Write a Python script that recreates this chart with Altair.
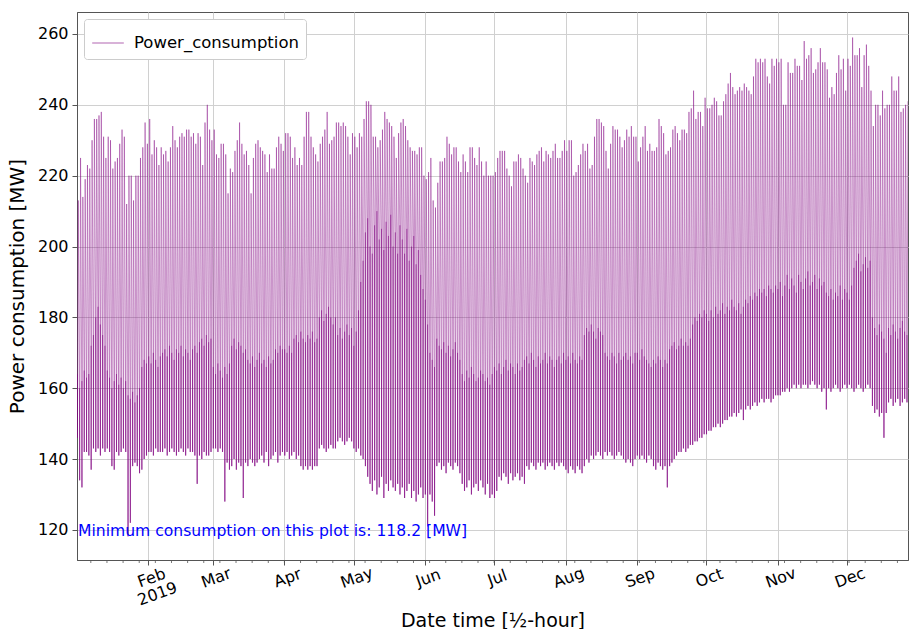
import altair as alt
import pandas as pd

# ---- daily peak values (MW), 1 Jan 2019 .. 27 Dec 2019 ----
peak_jan_apr1 = [213, 225, 214, 219, 223, 222, 230, 236, 236, 237,
                 238, 231, 225, 231, 230, 222, 224, 225, 229, 233,
                 231, 212, 220, 220, 213, 220, 220, 225, 228, 235,
                 229, 236, 226, 230, 228, 223, 228, 226, 227, 224,
                 228, 234, 230, 228, 231, 232, 231, 233, 233, 231,
                 232, 229, 232, 231, 223, 235, 240, 233, 230, 233,
                 226, 225, 229, 229, 226, 215, 222, 221, 227, 230,
                 235, 229, 226, 227, 223, 215, 225, 229, 230, 228,
                 227, 226, 221, 226, 222, 222, 228, 231, 229, 227,
                 232]
peak_apr_jul = [232, 231, 225, 228, 223, 225, 223, 231, 238, 238,
                231, 228, 226, 224, 229, 231, 233, 238, 229, 230,
                231, 235, 235, 234, 235, 234, 231, 226, 232, 231,
                228, 232, 231, 236, 241, 241, 240, 231, 231, 228,
                230, 233, 238, 236, 235, 234, 231, 225, 232, 235,
                236, 234, 230, 228, 227, 227, 226, 228, 228, 220,
                219, 221, 225, 213, 211, 218, 224, 224, 225, 231,
                229, 226, 228, 228, 224, 221, 226, 224, 221, 228,
                228, 225, 223, 228, 224, 220, 224, 220, 220, 220,
                221, 225]
peak_jul_sep = [227, 227, 227, 222, 220, 217, 224, 224, 226, 225,
                222, 220, 218, 225, 224, 223, 226, 227, 228, 224,
                227, 226, 225, 227, 229, 225, 225, 227, 230, 227,
                230, 230, 220, 221, 223, 226, 229, 227, 229, 222,
                223, 231, 236, 236, 235, 234, 227, 222, 229, 234,
                233, 233, 231, 228, 230, 233, 231, 234, 231, 231,
                224, 228, 231, 234, 227, 229, 227, 227, 228, 236,
                234, 232, 226, 227, 228, 233, 234, 232, 230, 233,
                233, 232, 238, 239, 244, 236, 238, 238, 234, 242,
                239]
peak_oct_dec = [239, 240, 242, 241, 237, 237, 241, 243, 246, 249,
                245, 243, 244, 245, 244, 246, 245, 244, 243, 248,
                253, 252, 253, 252, 253, 248, 246, 253, 251, 253,
                252, 253, 240, 240, 252, 249, 249, 253, 251, 251,
                247, 258, 253, 254, 256, 249, 250, 252, 256, 252,
                252, 250, 242, 245, 243, 249, 254, 250, 253, 244,
                253, 251, 259, 254, 254, 256, 245, 254, 257, 251,
                244, 234, 240, 240, 237, 244, 239, 240, 240, 248,
                244, 244, 248, 238, 239, 240, 241]

# ---- daily minimum (night trough) values ----
low_jan = [146, 134, 132, 142, 142, 141, 137, 143, 142, 143, 141, 143, 142, 143, 142, 138,
           137, 142, 141, 142, 143, 142, 118.2, 122, 138, 139, 138, 136, 137, 140, 141]
low_feb = [142, 142, 141, 143, 142, 142, 142, 143, 141, 142, 143, 142, 141, 142,
           143, 142, 141, 143, 142, 142, 141, 133, 141, 140, 142, 141, 141, 142]
low_mar = [143, 143, 142, 143, 142, 128, 139, 137, 138, 140, 137, 139, 138, 129, 139, 138,
           140, 139, 138, 139, 140, 141, 139, 142, 138, 140, 141, 142, 139, 141, 142]
low_apr = [141, 142, 140, 141, 142, 140, 141, 138, 137, 138, 137, 138, 137, 138, 138,
           143, 144, 143, 142, 143, 144, 143, 143, 145, 146, 145, 144, 145, 146, 145]
low_may = [143, 142, 143, 141, 140, 138, 135, 133, 131, 134, 130, 132, 135, 129, 133, 131,
           134, 132, 131, 133, 130, 132, 129, 131, 133, 129, 131, 128, 130, 132, 129]
low_jun = [130, 121, 130, 128, 124, 138, 139, 137, 138, 136, 139, 138, 137, 139, 138,
           136, 133, 131, 132, 134, 130, 132, 133, 131, 134, 132, 130, 133, 129, 130]
low_jul = [129, 131, 135, 134, 136, 135, 133, 136, 134, 135, 136, 134, 135, 133, 138, 137,
           139, 138, 137, 139, 138, 139, 137, 138, 139, 138, 137, 139, 138, 139, 138]
low_aug = [137, 136, 138, 137, 136, 138, 137, 136, 138, 140, 139, 141, 140, 141, 142, 141,
           140, 142, 141, 142, 141, 140, 141, 142, 141, 140, 139, 140, 139, 138, 140]
low_sep = [141, 140, 141, 140, 139, 141, 140, 138, 137, 139, 138, 137, 138, 132, 138,
           139, 140, 141, 142, 142, 143, 142, 143, 144, 144, 145, 145, 146, 146, 147]
low_oct = [147, 148, 148, 149, 149, 150, 149, 150, 151, 151, 152, 152, 153, 152, 153, 154,
           151, 154, 155, 154, 155, 156, 155, 156, 157, 156, 157, 157, 156, 157, 158]
low_nov = [158, 158, 159, 159, 160, 159, 160, 161, 160, 161, 160, 161, 161, 160, 161,
           162, 161, 160, 161, 159, 160, 154, 160, 159, 160, 161, 160, 159, 160, 161]
low_dec = [160, 161, 160, 159, 160, 161, 160, 159, 160, 161, 160, 155, 153, 154,
           152, 153, 146, 153, 156, 157, 155, 156, 157, 155, 156, 157, 156]

# ---- daily level around midnight (top of the dense band) ----
night_jan = [164, 160, 162, 165, 163, 164, 172, 175, 180, 183, 178, 175, 172, 165, 163, 160,
             162, 164, 161, 163, 160, 162, 158, 157, 159, 156, 158, 160, 166, 168, 167]
night_feb = [169, 167, 170, 168, 166, 169, 170, 171, 169, 172, 170, 168, 171, 170,
             172, 169, 171, 170, 168, 171, 172, 170, 173, 174, 172, 175, 173, 174]
night_mar = [166, 164, 167, 165, 163, 166, 164, 167, 172, 174, 171, 173, 172, 170, 171, 168,
             167, 169, 166, 168, 170, 167, 168, 166, 169, 167, 168, 171, 170, 172, 171]
night_apr = [171, 170, 172, 170, 174, 175, 173, 176, 174, 173, 175, 174, 176, 173, 174,
             180, 182, 179, 181, 183, 180, 178, 180, 175, 177, 174, 176, 178, 175, 177]
night_may = [172, 176, 182, 190, 196, 204, 208, 200, 198, 206, 210, 202, 205, 199, 207, 203,
             209, 200, 204, 198, 206, 202, 198, 205, 196, 200, 203, 195, 199, 192, 188]
night_jun = [185, 178, 170, 168, 166, 174, 172, 171, 173, 170, 172, 169, 171, 173, 170,
             168, 164, 162, 165, 163, 166, 164, 162, 163, 165, 164, 162, 163, 161, 164]
night_jul = [166, 165, 167, 164, 166, 168, 165, 167, 166, 164, 167, 165, 166, 168, 169, 167,
             170, 168, 166, 169, 167, 168, 170, 167, 169, 168, 166, 168, 169, 167, 170]
night_aug = [168, 169, 167, 170, 168, 167, 169, 168, 175, 177, 176, 178, 176, 174, 177, 176,
             175, 170, 169, 168, 170, 169, 167, 170, 168, 169, 170, 168, 169, 167, 170]
night_sep = [170, 168, 171, 169, 168, 167, 166, 168, 167, 169, 168, 166, 168, 167, 171,
             172, 173, 171, 172, 174, 172, 173, 172, 174, 178, 180, 179, 181, 180, 182]
night_oct = [181, 179, 182, 180, 183, 181, 182, 184, 181, 183, 182, 185, 183, 182, 184, 181,
             183, 185, 184, 186, 185, 187, 186, 188, 187, 188, 186, 189, 188, 187, 189]
night_nov = [188, 190, 186, 189, 192, 188, 191, 189, 187, 192, 190, 188, 191, 193, 189,
             190, 192, 188, 191, 189, 190, 187, 186, 188, 185, 187, 186, 189, 185, 188]
night_dec = [187, 185, 189, 194, 196, 198, 193, 195, 197, 194, 196, 180, 177, 175,
             178, 176, 174, 170, 177, 175, 178, 176, 174, 177, 179, 176, 175]

y_ticks = [120, 140, 160, 180, 200, 220, 240, 260]
month_ticks = [2, 3, 4, 5, 6, 7, 8, 9, 10, 11, 12]
series_name = "Power_consumption"

peaks = peak_jan_apr1 + peak_apr_jul + peak_jul_sep + peak_oct_dec
lows = (low_jan + low_feb + low_mar + low_apr + low_may + low_jun + low_jul + low_aug
        + low_sep + low_oct + low_nov + low_dec)
nights = (night_jan + night_feb + night_mar + night_apr + night_may + night_jun + night_jul
          + night_aug + night_sep + night_oct + night_nov + night_dec)
n = min(len(peaks), len(lows), len(nights))

FMT = "%Y-%m-%dT%H:%M:%S"
start = pd.Timestamp("2019-01-01")
rows = []
for d in range(n):
    day = start + pd.Timedelta(days=d)
    rows.append({"t": (day + pd.Timedelta(hours=1)).strftime(FMT), "v": nights[d]})
    rows.append({"t": (day + pd.Timedelta(hours=4)).strftime(FMT), "v": lows[d]})
    rows.append({"t": (day + pd.Timedelta(hours=13)).strftime(FMT), "v": peaks[d]})
line_df = pd.DataFrame(rows)
line_df["series"] = series_name

band_df = pd.DataFrame({
    "t": [(start + pd.Timedelta(days=d, hours=3)).strftime(FMT) for d in range(n)],
    "lo": lows[:n],
    "hi": nights[:n],
})

# weekly minor ticks (Mondays)
minor_df = pd.DataFrame({"t": [d.strftime(FMT) for d in
                               pd.date_range("2019-01-07", "2019-12-27", freq="7D")]})

min_val = min(lows[:n])
text_df = pd.DataFrame({"v": [min_val],
                        "label": [f"Minimum consumption on this plot is: {min_val:.1f} [MW]"]})

FONT = "DejaVu Sans"
PURPLE = "#800080"
W, H = 831, 548

xscale = alt.Scale(domain=[alt.DateTime(year=2019, month=1, date=1),
                           alt.DateTime(year=2019, month=12, date=27, hours=14)], nice=False)
yscale = alt.Scale(domain=[111.5, 266.2], nice=False, zero=False)

xaxis = alt.Axis(
    values=[alt.DateTime(year=2019, month=m, date=1) for m in month_ticks],
    labelExpr="month(datum.value) == 1 ? ['Feb', '2019'] : timeFormat(datum.value, '%b')",
    labelAngle=340, labelAlign="center", labelBaseline="top", labelFontSize=16,
    labelPadding=5, titleFontSize=19, titleY=60, titleBaseline="middle",
    tickSize=5, grid=True, labelLineHeight=17,
)
yaxis = alt.Axis(values=y_ticks, labelFontSize=16, titleFontSize=20, titlePadding=10,
                 tickSize=5, grid=True, labelPadding=4)

line = alt.Chart(line_df).mark_line(strokeWidth=1, opacity=0.42, clip=True).encode(
    x=alt.X("t:T", scale=xscale, axis=xaxis, title="Date time [½-hour]"),
    y=alt.Y("v:Q", scale=yscale, axis=yaxis, title="Power consumption [MW]"),
    color=alt.Color("series:N", scale=alt.Scale(range=[PURPLE]),
                    legend=alt.Legend(title=None, orient="top-left", offset=7,
                                      symbolType="stroke", symbolSize=1000,
                                      symbolStrokeWidth=1.5, symbolOpacity=0.4,
                                      labelFontSize=16.5, labelFont=FONT, labelOffset=9,
                                      labelLimit=0,
                                      strokeColor="#cccccc", fillColor="white",
                                      cornerRadius=3, padding=7)),
)

band = alt.Chart(band_df).mark_rule(strokeWidth=1, opacity=0.62, color=PURPLE, clip=True).encode(
    x=alt.X("t:T", scale=xscale),
    y=alt.Y("lo:Q", scale=yscale),
    y2="hi:Q",
)

minor = alt.Chart(minor_df).mark_rule(color="#555555", strokeWidth=0.8).encode(
    x=alt.X("t:T", scale=xscale),
    y=alt.value(H),
    y2=alt.value(H + 3),
)

text = alt.Chart(text_df).mark_text(align="left", baseline="alphabetic", color="blue",
                                    fontSize=15.6, font=FONT).encode(
    x=alt.value(1),
    y=alt.Y("v:Q", scale=yscale),
    text="label:N",
)

chart = alt.layer(line, band, minor, text).properties(
    width=W, height=H,
    autosize=alt.AutoSizeParams(type="none"),
    padding={"left": 77, "top": 12, "right": 1, "bottom": 69},
).configure_view(stroke="#555555", strokeWidth=1).configure_axis(
    labelFont=FONT, titleFont=FONT, labelColor="black", titleColor="black",
    titleFontWeight="normal", domainColor="#555555", tickColor="#555555",
    gridColor="#d0d0d0", gridWidth=1,
)

chart.save("out.html", embed_options={"renderer": "svg", "actions": False})
